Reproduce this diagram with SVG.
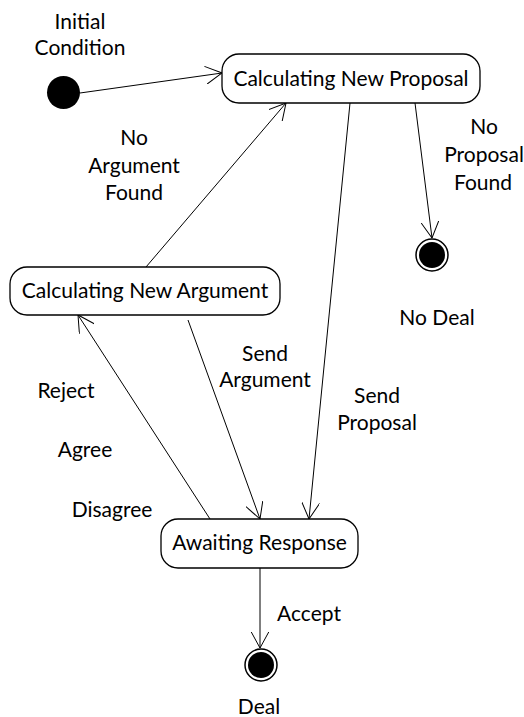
<svg xmlns="http://www.w3.org/2000/svg" width="524" height="717" viewBox="0 0 524 717">
  <style>
    text { font-family: Lato, "Open Sans", "Liberation Sans", sans-serif; font-size: 21px; fill: #000; text-anchor: middle; }
    .state { fill: #fff; stroke: #000; stroke-width: 1.3; }
    .edge { stroke: #000; stroke-width: 1; fill: none; marker-end: url(#open); }
  </style>
  <defs>
    <marker id="open" viewBox="0 0 17 18" refX="16.5" refY="9" markerWidth="17" markerHeight="18" markerUnits="userSpaceOnUse" orient="auto">
      <path d="M0,0 L16.5,9 L0,18" fill="none" stroke="#000" stroke-width="1"/>
    </marker>
  </defs>

  <g id="connectors">
    <line class="edge" x1="80" y1="93" x2="222" y2="73"/>
    <line class="edge" x1="146" y1="267" x2="286" y2="103"/>
    <line class="edge" x1="415" y1="103" x2="432" y2="238"/>
    <line class="edge" x1="350" y1="103" x2="309" y2="519"/>
    <line class="edge" x1="188" y1="320" x2="260" y2="519"/>
    <line class="edge" x1="210" y1="519" x2="78" y2="315"/>
    <line class="edge" x1="260" y1="568" x2="260" y2="648"/>
  </g>

  <g id="edge-labels">
    <text x="80" y="29">Initial</text>
    <text x="80" y="55">Condition</text>
    <text x="134" y="145">No</text>
    <text x="134" y="173">Argument</text>
    <text x="134" y="200">Found</text>
    <text x="484" y="134">No</text>
    <text x="484" y="162">Proposal</text>
    <text x="483" y="190">Found</text>
    <text x="265" y="361">Send</text>
    <text x="265" y="387">Argument</text>
    <text x="377" y="403">Send</text>
    <text x="377" y="430">Proposal</text>
    <text x="66" y="398">Reject</text>
    <text x="85" y="457">Agree</text>
    <text x="112" y="517">Disagree</text>
    <text x="309" y="621">Accept</text>
  </g>

  <g id="initial">
    <circle cx="63.5" cy="92.5" r="16.5" fill="#000"/>
  </g>

  <g id="calc-proposal">
    <rect class="state" x="222" y="54" width="258" height="49" rx="17"/>
    <text x="351" y="86">Calculating New Proposal</text>
  </g>

  <g id="calc-argument">
    <rect class="state" x="10" y="267" width="270" height="48" rx="17"/>
    <text x="145" y="298">Calculating New Argument</text>
  </g>

  <g id="awaiting">
    <rect class="state" x="161" y="519" width="197" height="49" rx="17"/>
    <text x="259.5" y="550">Awaiting Response</text>
  </g>

  <g id="no-deal">
    <circle cx="432" cy="255" r="16" fill="#fff" stroke="#000" stroke-width="1.5"/>
    <circle cx="432" cy="255" r="13" fill="#000"/>
    <text x="437" y="325">No Deal</text>
  </g>

  <g id="deal">
    <circle cx="261" cy="665" r="16" fill="#fff" stroke="#000" stroke-width="1.5"/>
    <circle cx="261" cy="665" r="13" fill="#000"/>
    <text x="259" y="714">Deal</text>
  </g>
</svg>
